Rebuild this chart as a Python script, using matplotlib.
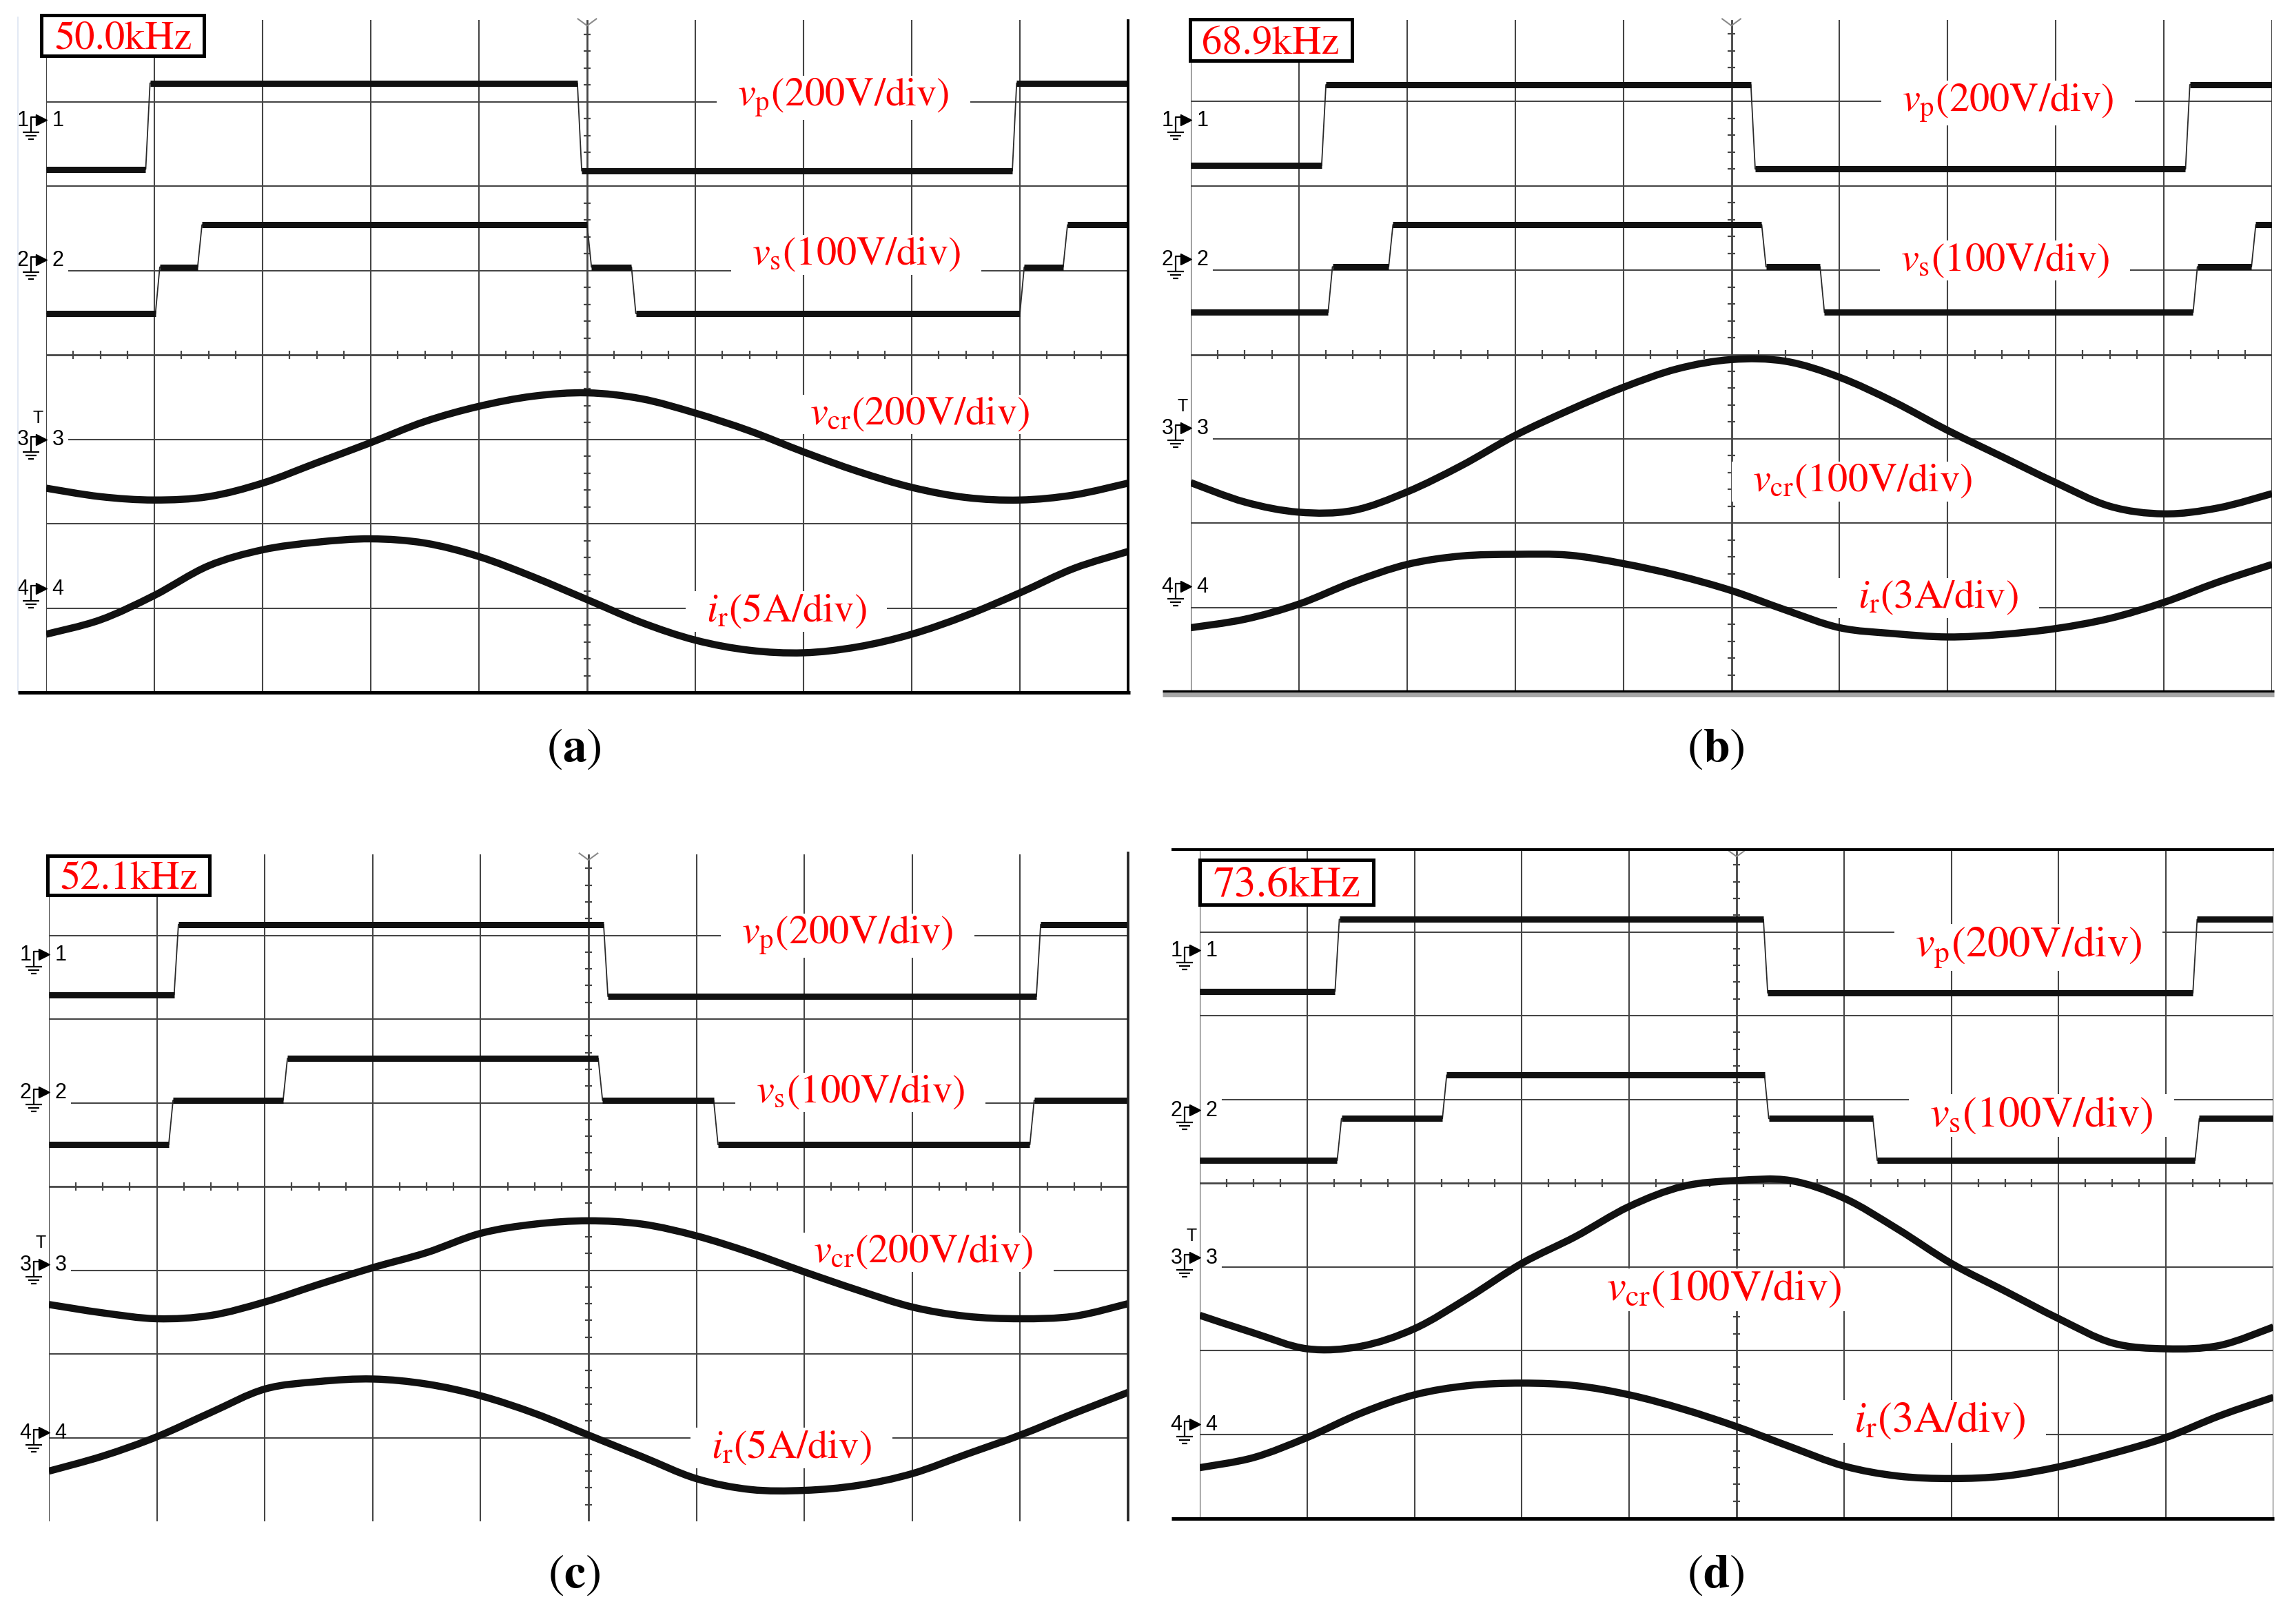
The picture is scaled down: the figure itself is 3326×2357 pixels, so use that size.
import matplotlib
matplotlib.use("Agg")
import matplotlib.pyplot as plt
from matplotlib.patches import Rectangle, PathPatch
from matplotlib.path import Path

W, H = 3326, 2357

# sample times (divisions) at which the sine-like traces were read
t = [0, 0.5, 1, 1.5, 2, 2.5, 3, 3.5, 4, 4.5, 5,
     5.5, 6, 6.5, 7, 7.5, 8, 8.5, 9, 9.5, 10]

# ---- (a) 50.0 kHz
vp_edges_a = [0.92, 4.91, 8.93]
vp_levels_a = [6.20, 7.22, 6.18, 7.22]
vs_edges_a = [1.01, 1.40, 5.00, 5.41, 9.00, 9.40]
vs_levels_a = [4.49, 5.04, 5.54, 5.04, 4.49, 5.04, 5.54]
vcr_a = [2.42, 2.32, 2.28, 2.32, 2.48, 2.72, 2.96, 3.21, 3.39, 3.51, 3.55,
         3.48, 3.31, 3.10, 2.85, 2.62, 2.43, 2.31, 2.28, 2.34, 2.48]
ir_a = [0.69, 0.86, 1.15, 1.50, 1.69, 1.78, 1.82, 1.77, 1.61, 1.37, 1.10,
        0.83, 0.62, 0.50, 0.47, 0.54, 0.69, 0.91, 1.18, 1.47, 1.67]

# ---- (b) 68.9 kHz
vp_edges_b = [1.21, 5.18, 9.20]
vp_levels_b = [6.24, 7.20, 6.20, 7.20]
vs_edges_b = [1.27, 1.83, 5.28, 5.82, 9.27, 9.81]
vs_levels_b = [4.50, 5.04, 5.54, 5.04, 4.50, 5.04, 5.54]
vcr_b = [2.48, 2.25, 2.13, 2.15, 2.37, 2.68, 3.04, 3.34, 3.61, 3.83, 3.94,
         3.92, 3.73, 3.44, 3.10, 2.79, 2.48, 2.20, 2.11, 2.18, 2.35]
ir_b = [0.76, 0.86, 1.04, 1.30, 1.51, 1.61, 1.63, 1.62, 1.52, 1.38, 1.20,
        0.97, 0.76, 0.69, 0.65, 0.68, 0.75, 0.87, 1.06, 1.30, 1.51]

# ---- (c) 52.1 kHz
vp_edges_c = [1.16, 5.14, 9.15]
vp_levels_c = [6.29, 7.13, 6.27, 7.13]
vs_edges_c = [1.11, 2.17, 5.09, 6.16, 9.09]
vs_levels_c = [4.50, 5.03, 5.53, 5.03, 4.50, 5.03]
vcr_c = [2.59, 2.49, 2.42, 2.46, 2.62, 2.83, 3.03, 3.21, 3.44, 3.55, 3.59,
         3.55, 3.41, 3.21, 2.98, 2.76, 2.56, 2.45, 2.42, 2.45, 2.60]
ir_c = [0.60, 0.78, 1.01, 1.30, 1.58, 1.67, 1.70, 1.64, 1.50, 1.29, 1.03,
        0.77, 0.51, 0.38, 0.37, 0.43, 0.57, 0.80, 1.03, 1.29, 1.54]

# ---- (d) 73.6 kHz
vp_edges_d = [1.26, 5.25, 9.25]
vp_levels_d = [6.29, 7.15, 6.27, 7.15]
vs_edges_d = [1.28, 2.26, 5.26, 6.27, 9.27]
vs_levels_d = [4.27, 4.77, 5.29, 4.77, 4.27, 4.77]
vcr_d = [2.42, 2.21, 2.02, 2.05, 2.26, 2.63, 3.04, 3.36, 3.72, 3.96, 4.03,
         4.03, 3.82, 3.45, 3.04, 2.71, 2.38, 2.09, 2.02, 2.06, 2.28]
ir_d = [0.60, 0.72, 0.96, 1.25, 1.47, 1.58, 1.61, 1.58, 1.47, 1.30, 1.09,
        0.85, 0.62, 0.50, 0.47, 0.50, 0.61, 0.77, 0.96, 1.22, 1.44]

freqs = ["50.0kHz", "68.9kHz", "52.1kHz", "73.6kHz"]
captions = ["a", "b", "c", "d"]
vcr_scale = ["200V/div", "100V/div", "200V/div", "100V/div"]
ir_scale = ["5A/div", "3A/div", "5A/div", "3A/div"]

plt.rcParams["font.family"] = "STIXGeneral"
plt.rcParams["mathtext.fontset"] = "stix"

SCOPE_FONT = ["Liberation Sans Narrow", "Liberation Sans", "DejaVu Sans"]
GRID = "#454545"
TRACE = "#111111"


def square_path(edges, levels, rise=0.04):
    xs, ys = [0], [levels[0]]
    flats = []
    start = 0
    for e, lo, hi in zip(edges, levels[:-1], levels[1:]):
        xs += [e, e + rise]
        ys += [lo, hi]
        flats.append((start, e, lo))
        start = e + rise
    xs.append(10)
    ys.append(levels[-1])
    flats.append((start, 10, levels[-1]))
    return xs, ys, flats


def smooth_trace(xs, ys):
    # cubic bezier through the read samples so the trace is drawn smooth
    pts = list(zip(xs, ys))
    verts = [pts[0]]
    codes = [Path.MOVETO]
    n = len(pts)
    for i in range(n - 1):
        p0 = pts[max(i - 1, 0)]
        p1 = pts[i]
        p2 = pts[i + 1]
        p3 = pts[min(i + 2, n - 1)]
        c1 = (p1[0] + (p2[0] - p0[0]) / 6, p1[1] + (p2[1] - p0[1]) / 6)
        c2 = (p2[0] - (p3[0] - p1[0]) / 6, p2[1] - (p3[1] - p1[1]) / 6)
        verts += [c1, c2, p2]
        codes += [Path.CURVE4] * 3
    return Path(verts, codes)


def ch_marker(ax, yc, label, pxx, pxy, trig=False):
    def P(dx, dy):
        return dx / pxx, yc - dy / pxy

    kw = dict(color="black", lw=1.6, clip_on=False, solid_capstyle="butt")
    ax.text(*P(-34, 1), label, fontsize=22, ha="center", va="center",
            family=SCOPE_FONT, clip_on=False)
    ax.text(*P(17, 1), label, fontsize=22, ha="center", va="center",
            family=SCOPE_FONT, clip_on=False)
    ax.plot(*P(-7, 0), marker=">", ms=11, color="black", clip_on=False)
    sx, sy = zip(P(-13, -4), P(-22, -4), P(-22, 18))
    ax.plot(sx, sy, **kw)
    for half, dy in [(12, 18), (8, 23), (4, 28)]:
        x0, y0 = P(-22 - half, dy)
        x1, _ = P(-22 + half, dy)
        ax.plot([x0, x1], [y0, y0], **kw)
    if trig:
        ax.text(*P(-12, -31), "T", fontsize=18, ha="center", va="center",
                family=SCOPE_FONT, clip_on=False)


fig = plt.figure(figsize=(W / 100, H / 100), dpi=100, facecolor="white")

# grid box of each screen in figure pixels: left, right, top, bottom
geoms = [(67, 1637, 25, 1005), (1728, 3297, 25, 1004),
         (71, 1637, 1236, 2208), (1741, 3299, 1231, 2203)]
vp_all = [(vp_edges_a, vp_levels_a), (vp_edges_b, vp_levels_b),
          (vp_edges_c, vp_levels_c), (vp_edges_d, vp_levels_d)]
vs_all = [(vs_edges_a, vs_levels_a), (vs_edges_b, vs_levels_b),
          (vs_edges_c, vs_levels_c), (vs_edges_d, vs_levels_d)]
vcr_all = [vcr_a, vcr_b, vcr_c, vcr_d]
ir_all = [ir_a, ir_b, ir_c, ir_d]

# label baselines (x centre, y baseline) in divisions
label_pos = [
    [(7.37, 6.95), (7.49, 5.07), (8.07, 3.18), (6.84, 0.84)],
    [(7.56, 6.89), (7.53, 5.00), (6.21, 2.38), (6.91, 1.00)],
    [(7.40, 6.90), (7.52, 5.01), (8.10, 3.10), (6.88, 0.76)],
    [(7.72, 6.71), (7.84, 4.68), (4.88, 2.60), (6.89, 1.03)],
]
label_size = [42, 42, 42, 45]
marker_y = [(6.78, 5.13, 3.00, 1.23), (6.78, 5.13, 3.13, 1.25),
            (6.77, 5.13, 3.07, 1.06), (6.78, 4.87, 3.11, 1.12)]
freq_box = [(0.71, 7.78, 236, 59), (0.74, 7.73, 235, 60),
            (0.74, 7.72, 235, 57), (0.81, 7.59, 252, 65)]

labels = []
for k in range(4):
    gl, gr, gt, gb = geoms[k]
    ax = fig.add_axes([gl / W, 1 - gb / H, (gr - gl) / W, (gb - gt) / H])
    ax.set_xlim(0, 10)
    ax.set_ylim(0, 8)
    ax.axis("off")
    pxx = (gr - gl) / 10
    pxy = (gb - gt) / 8

    # graticule
    for i in range(11):
        lw = 2.0 if i == 5 else 1.5
        ax.plot([i, i], [0, 7.96], color=GRID, lw=lw, zorder=1)
    for j in range(1, 8):
        x0 = 0.21 if j in (3, 5) else 0
        lw = 2.0 if j == 4 else 1.5
        ax.plot([x0, 10], [j, j], color=GRID, lw=lw, zorder=1)
    minor_x = [q / 4 for q in range(1, 40) if q % 4]
    minor_y = [q / 5 for q in range(1, 40) if q % 5]
    ax.vlines(minor_x, 4 - 0.05, 4 + 0.05, color=GRID, lw=1.6, zorder=1)
    ax.hlines(minor_y, 5 - 0.035, 5 + 0.035, color=GRID, lw=1.6, zorder=1)
    ax.plot([5 - 0.085, 5, 5 + 0.085], [7.98, 7.9, 7.98], color="#8a8a8a",
            lw=1.5, zorder=1, clip_on=False)

    # square-wave channels
    for edges, levels in (vp_all[k], vs_all[k]):
        xs, ys, flats = square_path(edges, levels)
        ax.plot(xs, ys, color="#2a2a2a", lw=1.3, zorder=5)
        for x0, x1, lev in flats:
            ax.plot([x0, x1], [lev, lev], color=TRACE, lw=6.5,
                    solid_capstyle="butt", zorder=5)

    # resonant capacitor voltage and current
    for series in (vcr_all[k], ir_all[k]):
        ax.add_patch(PathPatch(smooth_trace(t, series), facecolor="none",
                               edgecolor=TRACE, lw=7.5, capstyle="butt",
                               joinstyle="round", zorder=5))

    # channel markers
    for n, yc in enumerate(marker_y[k]):
        ch_marker(ax, yc, str(n + 1), pxx, pxy, trig=(n == 2))

    # red labels
    texts = [r"$v_{\mathrm{p}}$(200V/div)", r"$v_{\mathrm{s}}$(100V/div)",
             r"$v_{\mathrm{cr}}$(" + vcr_scale[k] + ")",
             r"$i_{\mathrm{r}}$(" + ir_scale[k] + ")"]
    for s, (lx, ly) in zip(texts, label_pos[k]):
        txt = ax.text(lx, ly, s, color="#ff0000", fontsize=label_size[k],
                      ha="center", va="baseline", zorder=6)
        labels.append((ax, txt))

    # frequency tag
    fx, fy, bw, bh = freq_box[k]
    ax.add_patch(Rectangle((fx - bw / 2 / pxx, fy - bh / 2 / pxy),
                           bw / pxx, bh / pxy, facecolor="white",
                           edgecolor="black", lw=3.6, zorder=7,
                           clip_on=False))
    ax.text(fx, fy - 20 / pxy, freqs[k], color="#ff0000",
            fontsize=label_size[k], ha="center", va="baseline", zorder=8,
            clip_on=False)

# white boxes behind the labels so the graticule is broken there
fig.canvas.draw()
renderer = fig.canvas.get_renderer()
for ax, txt in labels:
    bb = txt.get_window_extent(renderer)
    inv = ax.transData.inverted()
    x0, y0 = inv.transform((bb.x0 - 30, bb.y0 - 2))
    x1, y1 = inv.transform((bb.x1 + 30, bb.y1 + 2))
    ax.add_patch(Rectangle((x0, y0), x1 - x0, y1 - y0, facecolor="white",
                           edgecolor="none", zorder=3))

# frame pieces and captions in figure pixels
ov = fig.add_axes([0, 0, 1, 1], zorder=10)
ov.set_xlim(0, W)
ov.set_ylim(H, 0)
ov.axis("off")
ov.plot([26, 26], [25, 1005], color="#dde5f2", lw=1.2)
ov.plot([26, 1640], [1005, 1005], color="black", lw=3.6, solid_capstyle="butt")
ov.plot([1637, 1637], [28, 1005], color="black", lw=2.8, solid_capstyle="butt")
ov.plot([1687, 3300], [1008, 1008], color="#a6a6a6", lw=5, solid_capstyle="butt")
ov.plot([1687, 3300], [1003, 1003], color="black", lw=2.4, solid_capstyle="butt")
ov.plot([1637, 1637], [1236, 2208], color="#222222", lw=2.6, solid_capstyle="butt")
ov.plot([1700, 3300], [1233, 1233], color="black", lw=2.8, solid_capstyle="butt")
ov.plot([1700, 3300], [2204, 2204], color="black", lw=3.6, solid_capstyle="butt")

cap_xy = [(833, 1088), (2490, 1088), (833, 2287), (2490, 2287)]
for c, (cx, cy) in zip(captions, cap_xy):
    ov.text(cx, cy, r"($\mathbf{" + c + "}$)", fontsize=50, ha="center",
            va="center", color="black")

fig.savefig("out.png", dpi=100, facecolor="white")
